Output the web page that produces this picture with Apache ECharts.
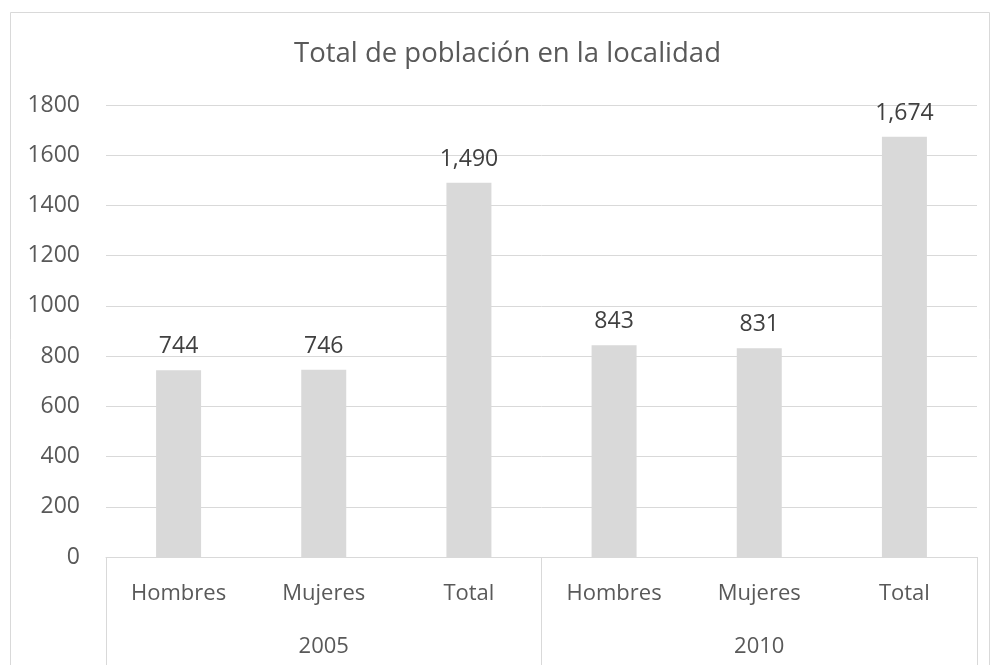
<!DOCTYPE html>
<html>
<head>
<meta charset="utf-8">
<script src="https://cdn.jsdelivr.net/npm/echarts@6/dist/echarts.min.js"></script>
<style>
html,body{margin:0;padding:0;background:#fff;}
#main{width:991px;height:665px;}
</style>
</head>
<body>
<div id="main"></div>
<script>
const titleText = 'Total de población en la localidad';
const categories = ['Hombres', 'Mujeres', 'Total', 'Hombres', 'Mujeres', 'Total'];
const groups = ['2005', '2010'];
const values = [744, 746, 1490, 843, 831, 1674];
const yMin = 0, yMax = 1800, yStep = 200;

const FONT = 'Open Sans';
const chart = echarts.init(document.getElementById('main'), null, {renderer: 'canvas'});
chart.setOption({
  animation: false,
  backgroundColor: '#ffffff',
  textStyle: {fontFamily: FONT},
  graphic: [
    {type: 'rect', shape: {x: 10.5, y: 12.5, width: 979, height: 720},
     style: {fill: null, stroke: '#d9d9d9', lineWidth: 1}, silent: true},
    {type: 'text', x: 507.5, y: 54,
     style: {text: titleText, fontFamily: FONT, fontSize: 27.5, fill: '#595959', align: 'center', verticalAlign: 'middle'}}
  ],
  grid: {left: 106, right: 14, top: 105, bottom: 108, containLabel: false},
  xAxis: [
    {type: 'category', data: categories, position: 'bottom',
     axisLine: {show: false}, axisTick: {show: false},
     axisLabel: {margin: 26, fontSize: 22, color: '#595959', fontFamily: FONT, interval: 0}},
    {type: 'category', data: groups, position: 'bottom',
     axisLine: {show: true, lineStyle: {color: '#d9d9d9', width: 1}},
     axisTick: {show: true, length: 120, lineStyle: {color: '#d9d9d9', width: 1}},
     axisLabel: {margin: 79, fontSize: 22, color: '#595959', fontFamily: FONT}}
  ],
  yAxis: {
    type: 'value', min: yMin, max: yMax, interval: yStep,
    axisLine: {show: false}, axisTick: {show: false},
    axisLabel: {margin: 26, fontSize: 23, color: '#595959', fontFamily: FONT, formatter: v => String(v)},
    splitLine: {lineStyle: {color: '#d9d9d9', width: 1}}
  },
  series: [{
    type: 'bar', xAxisIndex: 0, data: values, barWidth: 45,
    itemStyle: {color: '#d9d9d9'},
    label: {show: true, position: 'top', distance: 12, fontSize: 23, color: '#404040', fontFamily: FONT,
      formatter: p => Number(p.value).toLocaleString('en-US')}
  }]
});
</script>
</body>
</html>
